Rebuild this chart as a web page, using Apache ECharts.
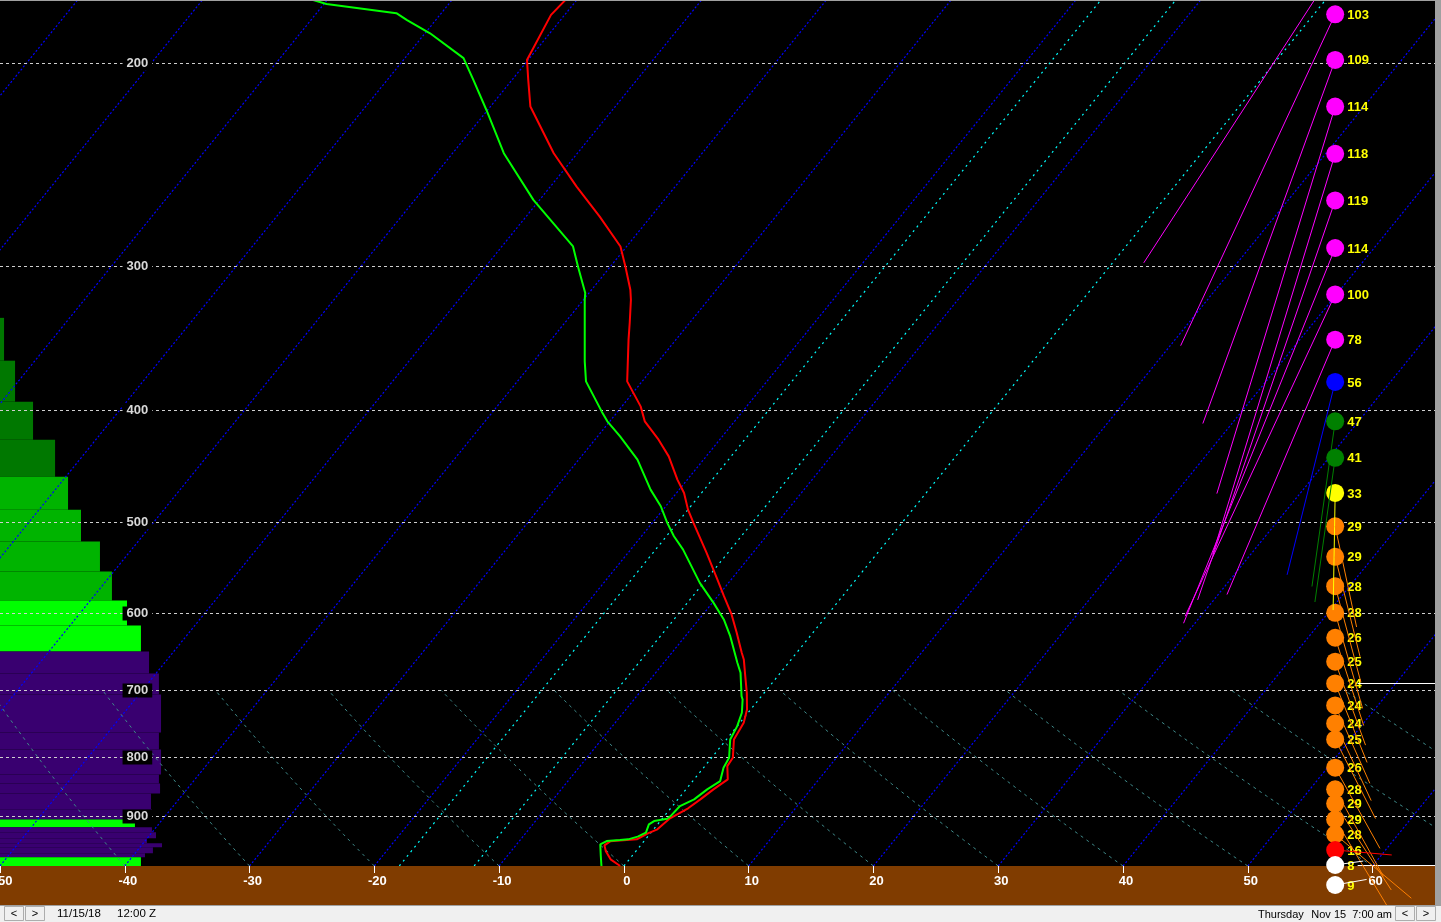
<!DOCTYPE html>
<html><head><meta charset="utf-8">
<script src="https://cdn.jsdelivr.net/npm/echarts@6/dist/echarts.min.js"></script>
<style>html,body{margin:0;padding:0;background:#000;overflow:hidden}#c{width:1441px;height:922px}</style>
</head><body><div id="c"></div><script>
// ---------------- data ----------------
const pressureTicks = [200, 300, 400, 500, 600, 700, 800, 900];

// temperature profile (hPa, degC)
const tempP = [993.8,980.7,965.1,953.7,946.1,942.3,931.1,923.6,903.6,885.7,870.0,852.8,836.0,814.1,800.6,771.9,746.6,727.0,703.2,680.3,658.0,649.3,623.9,601.5,579.9,561.0,531.9,501.0,487.9,471.9,459.5,438.7,424.3,409.0,397.0,377.7,347.5,336.0,320.9,314.5,300.3,288.5,271.8,256.0,239.5,218.2,206.9,198.8,181.7,176.0];
const tempT = [-0.3,-1.5,-2.4,-2.9,-2.7,-0.7,-0.2,0.3,0.6,1.4,1.8,2.2,2.7,1.8,1.7,0.6,0.3,-0.3,-1.4,-2.6,-3.8,-4.4,-6.1,-7.7,-9.5,-11.1,-13.7,-16.7,-18.0,-19.4,-20.8,-23.0,-24.9,-27.2,-28.5,-31.2,-33.8,-34.8,-36.2,-36.9,-38.8,-40.5,-44.1,-47.9,-51.9,-56.8,-58.7,-60.1,-61.1,-60.9];

// dewpoint profile (hPa, degC)
const dewP = [993.8,974.2,951.8,945.5,943.6,942.3,937.2,929.8,914.6,908.5,904.2,899.5,881.7,870.0,852.8,838.8,816.7,800.6,771.9,751.7,731.8,712.7,708.0,675.7,662.4,628.1,607.5,587.7,564.7,528.4,514.5,501.0,484.6,468.8,441.5,421.5,409.0,401.0,377.7,362.9,320.9,316.6,300.3,288.5,275.4,262.9,239.5,219.7,206.9,198.1,188.5,183.6,181.1,177.8,176.0];
const dewT = [-1.8,-2.5,-3.3,-3.0,-2.0,-1.4,-0.8,-0.4,-0.7,-0.5,0.4,0.5,0.6,1.3,1.7,2.2,1.6,1.4,0.3,0.0,-0.5,-1.3,-1.6,-3.2,-4.1,-6.4,-8.0,-9.9,-12.3,-15.8,-17.4,-18.8,-20.4,-22.3,-25.3,-28.2,-30.2,-31.3,-34.5,-35.9,-39.9,-40.3,-42.6,-44.3,-47.4,-50.5,-55.9,-60.1,-63.1,-65.3,-69.6,-72.3,-73.6,-79.8,-81.5];

// humidity profile bars (layer top hPa, layer bottom hPa, percent)
const rhTop    = [332.7,362.4,393.3,424.3,456.8,487.9,520.0,552.1,585.0,614.9,647.6,676.7,705.6,761.2,787.4,827.7,842.7,859.7,887.5,905.7,920.0,929.2,940.4,949.9,957.5,969.0,976.8];
const rhBottom = [362.4,393.3,424.3,456.8,487.9,520.0,552.1,585.0,614.9,647.6,676.7,705.6,761.2,787.4,827.7,842.7,859.7,887.5,905.7,920.0,929.2,940.4,949.9,957.5,969.0,976.8,993.8];
const rhValue  = [2.5,9.3,20.4,34.0,42.0,50.0,61.7,69.1,78.4,87.0,92.0,98.1,99.4,98.1,99.4,98.1,98.8,93.2,93.8,83.3,93.8,96.3,90.7,100,94.4,89.5,87.0];

// winds (hPa, knots, direction deg)
const windP     = [165.5,181.5,198.8,218.2,239.8,263.2,289.4,317.5,347.5,378.1,409.0,440.0,471.9,504.4,536.1,568.5,599.5,630.1,661.0,690.3,721.3,747.6,771.9,816.7,852.8,877.4,905.7,932.9,962.6,991.8,1032.2];
const windSpeed = [99,103,109,114,118,119,114,100,78,56,47,41,33,29,29,28,28,26,25,24,24,24,25,26,28,29,29,28,16,8,9];
const windDir   = [213,205,200,197,197,199,202,205,203,194,188,188,181,168,166,165,164,162,160,158,156,155,153,151,151,147,149,130,95,82,80];
const markedLevels = [690.3, 991.8];

// reference lines
const isothermsBlue = [-100,-90,-80,-70,-60,-50,-40,-30,-20,-10,10,20,30,40,50,60];
const isothermsCyan = [-18,-12,0];
const adiabatBase = [-50,-40,-30,-20,-10,0,10,20,30,40,50,60,70,80,90,100];

const statusDate = '11/15/18', statusTime = '12:00 Z', statusDay = 'Thursday', statusLocal = 'Nov 15  7:00 am';

// ---------------- chart geometry ----------------
const PMIN = 176.39, PMAX = 993.8, P0 = 993.8;
const XMIN = -50, XMAX = 65;
const SKEW = 32.52;           // degC per ln(p) unit
const WIND_X = 57.0, WIND_PX = 3.55, MARK_X0 = 58.8, LABEL_X = -37.8;
const FONT = '"Liberation Sans", Arial, sans-serif';

function skewX(T, p) { return T + SKEW * Math.log(P0 / p); }
function rhColor(v) { if (v >= 89) return '#390070'; if (v >= 75) return '#00ff00'; if (v >= 40) return '#00b400'; return '#007800'; }
function windColor(s) {
  if (s < 10) return '#ffffff'; if (s < 20) return '#ff0000'; if (s < 30) return '#ff8000';
  if (s < 40) return '#ffff00'; if (s < 50) return '#008000'; if (s < 60) return '#0000ff'; return '#ff00ff';
}

function isoSeries(list, color, dash, z) {
  return {
    type: 'custom', clip: true, z: z, silent: true,
    data: list.map(t => [t, 500]),
    renderItem: function (params, api) {
      const T = api.value(0);
      const a = api.coord([skewX(T, PMAX), PMAX]);
      const b = api.coord([skewX(T, 150), 150]);
      return { type: 'line', shape: { x1: a[0], y1: a[1], x2: b[0], y2: b[1] },
        style: { stroke: color, lineWidth: 1.2, lineDash: dash } };
    }
  };
}

const series = [];
// humidity bars
series.push({
  type: 'custom', xAxisIndex: 1, z: 1, silent: true,
  data: rhValue.map((v, i) => [v, rhTop[i], rhBottom[i]]),
  encode: { x: 0, y: [1, 2] },
  renderItem: function (params, api) {
    const v = api.value(0), pt = api.value(1), pb = api.value(2);
    const a = api.coord([0, pt]), b = api.coord([v, pb]);
    return { type: 'rect', shape: { x: a[0], y: a[1], width: b[0] - a[0], height: b[1] - a[1] },
      style: { fill: rhColor(v) } };
  }
});
// isotherms
series.push(isoSeries(isothermsBlue, '#0000ff', [2, 2], 2));
// dry adiabats (bottom to 700 hPa)
series.push({
  type: 'custom', clip: true, z: 2, silent: true,
  data: adiabatBase.map(t => [t, 500]),
  renderItem: function (params, api) {
    const T0 = api.value(0) + 273.15;
    const pts = [];
    for (let p = P0; p >= 700; p -= 10) {
      const T = T0 * Math.pow(p / P0, 0.2857) - 273.15;
      pts.push(api.coord([skewX(T, p), p]));
    }
    const T7 = T0 * Math.pow(700 / P0, 0.2857) - 273.15;
    pts.push(api.coord([skewX(T7, 700), 700]));
    return { type: 'polyline', shape: { points: pts },
      style: { stroke: '#3f8a8a', lineWidth: 1, lineDash: [3, 4], fill: null } };
  }
});
series.push(isoSeries(isothermsCyan, '#00ffff', [2, 4], 2));
// pressure gridlines + labels
series.push({
  type: 'custom', z: 3, silent: true,
  data: pressureTicks.map(p => [0, p]),
  renderItem: function (params, api) {
    const p = api.value(1);
    const y = Math.round(api.coord([0, p])[1]) + 0.5;
    const cs = params.coordSys;
    const lab = api.coord([LABEL_X, p]);
    return { type: 'group', children: [
      { type: 'line', shape: { x1: cs.x, y1: y, x2: cs.x + cs.width, y2: y },
        style: { stroke: '#cfcfcf', lineWidth: 1, lineDash: [3, 3] } },
      { type: 'text', x: lab[0], y: y, style: { text: String(p), fill: '#d8d8d8',
        font: 'bold 13px ' + FONT, align: 'right', verticalAlign: 'middle',
        backgroundColor: '#000', padding: [1, 4, 0, 4] } }
    ] };
  }
});
// temperature & dewpoint
series.push({ type: 'line', name: 'T', z: 4, showSymbol: false, symbol: 'none', silent: true,
  data: tempP.map((p, i) => [skewX(tempT[i], p), p]), lineStyle: { color: '#ff0000', width: 2 } });
series.push({ type: 'line', name: 'Td', z: 4, showSymbol: false, symbol: 'none', silent: true,
  data: dewP.map((p, i) => [skewX(dewT[i], p), p]), lineStyle: { color: '#00ff00', width: 2 } });
// wind dots
const windData = windP.map((p, i) => [WIND_X, p, windSpeed[i], windDir[i]]);
series.push({ type: 'custom', z: 5, silent: true, clip: false, data: windData,
  renderItem: function (params, api) {
    const c = api.coord([api.value(0), api.value(1)]);
    return { type: 'circle', shape: { cx: c[0], cy: c[1], r: 9 }, style: { fill: windColor(api.value(2)) } };
  } });
// wind labels
series.push({ type: 'custom', z: 6, silent: true, clip: false, data: windData,
  renderItem: function (params, api) {
    const c = api.coord([api.value(0), api.value(1)]);
    return { type: 'text', x: c[0] + 12, y: c[1] + 1, style: { text: String(api.value(2)), fill: '#ffff00',
      font: 'bold 13px ' + FONT, align: 'left', verticalAlign: 'middle' } };
  } });
// wind vectors
series.push({ type: 'custom', z: 7, silent: true, clip: false, data: windData,
  renderItem: function (params, api) {
    const c = api.coord([api.value(0), api.value(1)]);
    const s = api.value(2), d = api.value(3) * Math.PI / 180, L = s * WIND_PX;
    return { type: 'line', shape: { x1: c[0], y1: c[1], x2: c[0] + Math.sin(d) * L, y2: c[1] - Math.cos(d) * L },
      style: { stroke: windColor(s), lineWidth: 1 } };
  } });
// marked levels
series.push({ type: 'custom', z: 6, silent: true, clip: false, data: markedLevels.map(p => [MARK_X0, p]),
  renderItem: function (params, api) {
    const c = api.coord([api.value(0), api.value(1)]);
    const cs = params.coordSys;
    const y = Math.round(c[1]) + 0.5;
    return { type: 'line', shape: { x1: c[0], y1: y, x2: cs.x + cs.width, y2: y }, style: { stroke: '#ffffff', lineWidth: 1 } };
  } });

function button(x, label) {
  return [
    { type: 'rect', z: 101, shape: { x: x + 0.5, y: 906.5, width: 19, height: 14 }, style: { fill: '#f0f0f0', stroke: '#adadad', lineWidth: 1 } },
    { type: 'text', z: 102, x: x + 10, y: 914, style: { text: label, fill: '#000', font: '11px ' + FONT, align: 'center', verticalAlign: 'middle' } }
  ];
}

const graphic = [
  { type: 'rect', z: 100, shape: { x: 1435, y: 0, width: 6, height: 905 }, style: { fill: '#a0a0a0' } },
  { type: 'rect', z: 100, shape: { x: 0, y: 0, width: 1441, height: 1 }, style: { fill: '#a0a0a0' } },
  { type: 'rect', z: 100, shape: { x: 0, y: 905, width: 1441, height: 17 }, style: { fill: '#f0f0f0' } },
  { type: 'rect', z: 100, shape: { x: 0, y: 905, width: 1441, height: 1 }, style: { fill: '#a0a0a0' } },
  ...button(4, '<'), ...button(25, '>'), ...button(1395, '<'), ...button(1416, '>'),
  { type: 'text', z: 102, x: 57, y: 914, style: { text: statusDate, fill: '#000', font: '11.5px ' + FONT, verticalAlign: 'middle' } },
  { type: 'text', z: 102, x: 117, y: 914, style: { text: statusTime, fill: '#000', font: '11.5px ' + FONT, verticalAlign: 'middle' } },
  { type: 'text', z: 102, x: 1258, y: 915, style: { text: statusDay, fill: '#000', font: '11px ' + FONT, verticalAlign: 'middle' } },
  { type: 'text', z: 102, x: 1392, y: 915, style: { text: statusLocal, fill: '#000', font: '11px ' + FONT, align: 'right', verticalAlign: 'middle' } }
];

const chart = echarts.init(document.getElementById('c'), null, { renderer: 'canvas' });
chart.setOption({
  backgroundColor: '#803c00',
  animation: false,
  grid: { left: 0, top: 0, width: 1435, height: 866, show: true, backgroundColor: '#000', borderWidth: 0,
    containLabel: false, outerBoundsMode: 'none' },
  xAxis: [
    { type: 'value', min: XMIN, max: XMAX, interval: 10, position: 'bottom',
      axisLine: { show: false }, splitLine: { show: false },
      axisTick: { show: true, length: 7, lineStyle: { color: '#ffffff', width: 1 } },
      axisLabel: { show: true, color: '#ffffff', fontWeight: 'bold', fontSize: 13, fontFamily: FONT, margin: 9,
        padding: [0, 0, 0, 6], showMinLabel: true, showMaxLabel: false,
        formatter: function (v) { return (Math.round(v) % 10 === 0) ? String(Math.round(v)) : ''; } } },
    { type: 'value', min: 0, max: 1435 / 1.62, show: false }
  ],
  yAxis: [{ type: 'log', logBase: 10, min: PMIN, max: PMAX, inverse: true, show: false }],
  graphic: graphic,
  series: series
});
</script></body></html>
